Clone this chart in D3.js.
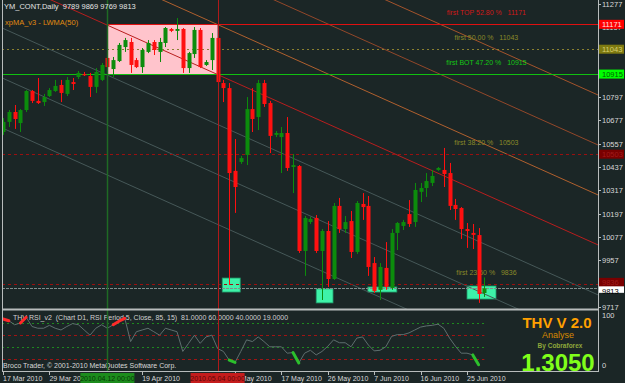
<!DOCTYPE html>
<html>
<head>
<meta charset="utf-8">
<script src="https://d3js.org/d3.v7.min.js"></script>
<style>
  body { margin: 0; background: #1b2626; }
  svg { display: block; }
  text { font-family: "Liberation Sans", Arial, sans-serif; white-space: pre; }
</style>
</head>
<body>
<svg width="625" height="383"></svg>
<script>
// daily candles, one entry per bar (bar 0 = 17 Mar 2010)
const opens  = [10617,10669,10720,10663,10730,10828,10777,10771,10802,10828,10859,10813,10874,10900,10915,10905,10849,10885,10998,10941,
                10982,11054,11080,10987,10951,11029,11080,11029,11075,11147,11137,11147,10946,11018,11142,10962,10987,11101,10869,10843,
                10417,10463,10499,10735,10694,10869,10766,10602,10591,10612,10437,10442,10005,10154,10175,10005,10108,9861,10237,10118,
                10159,10000,10247,10237,9943,9805,9918,9815,10098,10134,10195,10154,10309,10329,10355,10422,10422,10406,10242,10226,
                10118,10098,10087,9789];
const highs  = [10689,10730,10756,10735,10833,10833,10895,10813,10843,10885,10885,10900,10895,10931,10926,10921,10946,10972,11013,11003,
                11075,11101,11101,10998,11049,11090,11090,11101,11157,11152,11203,11152,11029,11157,11152,10987,11126,11116,10885,10869,
                10581,10494,10797,10843,10885,10885,10777,10622,10643,10694,10504,10447,10185,10180,10190,10118,10159,10252,10278,10185,
                10211,10262,10303,10288,9974,9943,10051,10118,10154,10165,10267,10355,10355,10406,10422,10437,10535,10458,10273,10231,
                10149,10144,10123,9869];
const lows   = [10602,10643,10633,10617,10720,10766,10761,10751,10797,10823,10771,10802,10833,10890,10905,10797,10818,10879,10936,10900,
                10977,11029,10921,10946,10921,11023,11013,10977,11054,11131,11090,10921,10921,10998,10946,10957,10936,10807,10771,9830,
                10201,10453,10447,10617,10627,10746,10509,10591,10406,10417,10303,9995,9877,10144,9995,9753,9820,9856,10098,10098,
                9969,9990,10165,9877,9789,9753,9805,9805,10010,10113,10129,10129,10257,10283,10339,10417,10334,10216,10165,10067,
                10021,10015,9738,9769];
const closes = [10669,10720,10684,10730,10828,10777,10766,10797,10833,10854,10818,10885,10864,10921,10910,10849,10926,10962,10951,10987,
                11065,11090,10962,10951,11039,11075,11039,11080,11152,11137,11147,10946,11023,11142,10951,10977,11101,10874,10843,10406,
                10334,10483,10735,10684,10869,10761,10597,10612,10612,10432,10447,10005,10175,10170,10005,10108,9861,10237,10118,10154,
                10000,10252,10231,9923,9799,9923,9820,10098,10149,10154,10144,10319,10329,10365,10391,10432,10401,10237,10221,10118,
                10108,10088,9784,9813];

// THV RSI(5) values per bar
const rsi = [88,85,78,81,91,75,72,72,77,72,69,75,80,78,69,60,72,78,72,78,
             84,89,49,66,69,72,66,60,72,69,66,32,46,60,46,57,60,37,32,17,
             13,32,52,49,57,49,40,40,40,29,30,12,29,34,26,32,41,52,47,47,
             40,55,57,43,33,34,40,58,61,61,64,69,74,76,77,79,72,55,41,29,
             29,26,9];
const rsiHot  = [[0, 1], [3, 4], [19, 21]];     // overbought stretches (bar ranges)
const rsiCold = [[39, 40], [50, 51], [81, 82]]; // oversold stretches
const rsiLevels = [81, 60, 40, 19];

// axes (labels hidden under the flags in the original are left out)
const priceTicks = [9717, 9837, 9957, 10077, 10197, 10317, 10437, 10557, 10677, 10797, 11157, 11277];
const timeTickBars = [0, 8, 24, 40, 48, 56, 64, 72, 80];
const timeTickLabels = ['17 Mar 2010', '29 Mar 2010', '19 Apr 2010', '7 May 2010',
                        '17 May 2010', '26 May 2010', '7 Jun 2010', '16 Jun 2010', '25 Jun 2010'];

// fibo style levels
const levelPrices = [11171, 11043, 10915, 10503, 9836];
const levelNames = ['first TOP 52.80 %', 'first 50.00 %', 'first BOT 47.20 %', 'first 38.20 %', 'first 23.60 %'];
const levelStartBars = [18, 0, 0, 0, 0];
const lastPrice = 9813;

// marked dates (vertical lines) and the range box between them
const markBars = [18, 37];
const markLabels = ['2010.04.12 00:00', '2010.05.04 00:00'];

// descending channel: price at bar 0 and bar 100 of the middle line, step between lines
const channelStart = 11407;
const channelEnd = 10071;
const channelStep = 257;
const channelOffsets = [3, 2, 1, 0, -1, -2, -3];

// support zones: [bar from, bar to] and [upper price, lower price]
const zoneBars = [[37.8, 40.9], [54, 56.9], [62.9, 67.9], [80, 85]];
const zonePrices = [[9866, 9794], [9810, 9738], [9820, 9794], [9825, 9758]];

const svg = d3.select('svg');
const W = 625, H = 383;
const left = 2, right = 598, mainBottom = 309, rsiTop = 311, rsiBottom = 371;

const x = d3.scaleLinear().domain([0, 100]).range([3, 583]);
const y = d3.scaleLinear().domain([9717, 11277]).range([307, 3.7]);
const yr = d3.scaleLinear().domain([0, 100]).range([370, 312]);

const bg = '#1b2626';
const frame = '#b8bcbc';
const axisText = '#d8d8d8';

svg.append('rect').attr('width', W).attr('height', H).attr('fill', bg);

const defs = svg.append('defs');
defs.append('clipPath').attr('id', 'mainClip')
  .append('rect').attr('x', left).attr('y', 0).attr('width', right - left).attr('height', mainBottom);
defs.append('clipPath').attr('id', 'rsiClip')
  .append('rect').attr('x', left).attr('y', rsiTop).attr('width', right - left).attr('height', rsiBottom - rsiTop);

const main = svg.append('g').attr('clip-path', 'url(#mainClip)');
const sub = svg.append('g').attr('clip-path', 'url(#rsiClip)');

// pink range box
main.append('rect')
  .attr('x', x(markBars[0])).attr('y', y(levelPrices[0]))
  .attr('width', x(markBars[1]) - x(markBars[0]))
  .attr('height', y(levelPrices[2]) - y(levelPrices[0]))
  .attr('fill', '#ffc4cc');

// support zones
main.selectAll('.zone').data(zoneBars).enter().append('rect')
  .attr('x', d => x(d[0]))
  .attr('y', (d, k) => y(zonePrices[k][0]))
  .attr('width', d => x(d[1]) - x(d[0]))
  .attr('height', (d, k) => y(zonePrices[k][1]) - y(zonePrices[k][0]))
  .attr('fill', '#3ef2a8').attr('stroke', '#1f9a6a').attr('stroke-width', 0.8);

// channel lines, stretched to the right edge along their slope
const channelColors = ['#a4542c', '#93482a', '#b0602e', '#b81e1e', '#465858', '#465858', '#465858'];
const slope = (y(channelEnd) - y(channelStart)) / (x(100) - x(0));
main.selectAll('.chan').data(channelOffsets).enter().append('line')
  .attr('x1', x(0)).attr('y1', d => y(channelStart + d * channelStep))
  .attr('x2', right).attr('y2', d => y(channelStart + d * channelStep) + slope * (right - x(0)))
  .attr('stroke', (d, k) => channelColors[k]).attr('stroke-width', 1);

// horizontal levels
const levelColors = ['#e01010', '#8a8030', '#10c010', '#9a1010', '#9a1010'];
const levelDash = [null, '2,3', null, '3,3', '3,3'];
main.selectAll('.lvl').data(levelPrices).enter().append('line')
  .attr('x1', (d, k) => levelStartBars[k] ? x(levelStartBars[k]) : left)
  .attr('x2', right)
  .attr('y1', d => Math.round(y(d)) + 0.5).attr('y2', d => Math.round(y(d)) + 0.5)
  .attr('stroke', (d, k) => levelColors[k])
  .attr('stroke-dasharray', (d, k) => levelDash[k]);

main.append('line')
  .attr('x1', left).attr('x2', right)
  .attr('y1', Math.round(y(lastPrice)) + 0.5).attr('y2', Math.round(y(lastPrice)) + 0.5)
  .attr('stroke', '#7f8c8c').attr('stroke-dasharray', '3,1');

// level captions
const captionColors = ['#d01818', '#8a8a28', '#14c814', '#8a8a28', '#8a8a28'];
main.selectAll('.cap').data(levelPrices).enter().append('text')
  .attr('x', x(83) + 2).attr('y', d => y(d) - 9)
  .attr('text-anchor', 'middle').attr('font-size', 7)
  .attr('fill', (d, k) => captionColors[k])
  .text((d, k) => `${levelNames[k]}   ${d}`);

// vertical date markers
const markColors = ['#1f6a24', '#b01a1a'];
svg.selectAll('.mark').data(markBars).enter().append('line')
  .attr('x1', d => Math.round(x(d)) + 0.5).attr('x2', d => Math.round(x(d)) + 0.5)
  .attr('y1', 0).attr('y2', rsiBottom)
  .attr('stroke', (d, k) => markColors[k]).attr('stroke-width', (d, k) => k ? 1 : 1.5);

// candles
const bw = 4;
const bars = d3.range(opens.length);
const up = i => closes[i] >= opens[i];
const candleCol = i => up(i) ? '#0c8c0c' : '#ff1010';
main.selectAll('.wick').data(bars).enter().append('line')
  .attr('x1', i => Math.round(x(i)) + 0.5).attr('x2', i => Math.round(x(i)) + 0.5)
  .attr('y1', i => y(highs[i])).attr('y2', i => y(lows[i]))
  .attr('stroke', candleCol);
main.selectAll('.body').data(bars).enter().append('rect')
  .attr('x', i => Math.round(x(i)) - bw / 2 + 0.5)
  .attr('y', i => y(Math.max(opens[i], closes[i])))
  .attr('width', bw)
  .attr('height', i => Math.max(1.2, Math.abs(y(opens[i]) - y(closes[i]))))
  .attr('fill', candleCol);

// top-left captions
svg.append('text').attr('x', 4).attr('y', 9).attr('font-size', 7.5).attr('fill', '#e4e4e4')
  .text('YM_CONT,Daily  9789 9869 9769 9813');
svg.append('text').attr('x', 5).attr('y', 25).attr('font-size', 7.5).attr('fill', '#e08a10')
  .text('xpMA_v3 - LWMA(50)');

// RSI pane
const rsiLevelColors = ['#1e8a1e', '#a01414', '#1e8a1e', '#a01414'];
const rsiLevelDash = ['2,3', '3,3', '2,3', '3,3'];
sub.selectAll('.rl').data(rsiLevels).enter().append('line')
  .attr('x1', left).attr('x2', x(83))
  .attr('y1', d => Math.round(yr(d)) + 0.5).attr('y2', d => Math.round(yr(d)) + 0.5)
  .attr('stroke', (d, k) => rsiLevelColors[k]).attr('stroke-dasharray', (d, k) => rsiLevelDash[k]);

sub.append('text').attr('x', 13).attr('y', 320).attr('font-size', 7).attr('fill', '#d0d0d0')
  .text('THV RSI_v2  (Chart D1, RSI Period 5, Close, 85, 15)  81.0000 60.0000 40.0000 19.0000');
sub.append('text').attr('x', 3).attr('y', 368).attr('font-size', 7).attr('fill', '#d8d8d8')
  .text('Broco Trader, \u00a9 2001-2010 MetaQuotes Software Corp.');

const rsiLine = d3.line().x((d, i) => x(i)).y(d => yr(d));
sub.append('path').attr('d', rsiLine(rsi)).attr('fill', 'none').attr('stroke', '#5e6e6e').attr('stroke-width', 1);

const segLine = d3.line().x(d => x(d)).y(d => yr(rsi[d]));
const seg = r => segLine(d3.range(r[0], r[1] + 1));
sub.selectAll('.hot').data(rsiHot).enter().append('path')
  .attr('d', seg).attr('fill', 'none').attr('stroke', '#ff2a2a').attr('stroke-width', 3).attr('stroke-linecap', 'round');
sub.selectAll('.cold').data(rsiCold).enter().append('path')
  .attr('d', seg).attr('fill', 'none').attr('stroke', '#2cc02c').attr('stroke-width', 3).attr('stroke-linecap', 'round');

// THV badge
svg.append('text').attr('x', 557).attr('y', 328).attr('text-anchor', 'middle')
  .attr('font-size', 15).attr('font-weight', 'bold').attr('fill', '#ffa000').text('THV V 2.0');
svg.append('text').attr('x', 558).attr('y', 338).attr('text-anchor', 'middle')
  .attr('font-size', 9).attr('fill', '#d88a00').text('Analyse');
svg.append('text').attr('x', 560).attr('y', 348).attr('text-anchor', 'middle')
  .attr('font-size', 6.5).attr('font-weight', 'bold').attr('fill', '#8ea83a').text('By Cobraforex');
svg.append('text').attr('x', 558).attr('y', 371).attr('text-anchor', 'middle')
  .attr('font-size', 24).attr('font-weight', 'bold').attr('fill', '#80ff1a').text('1.3050');

// frame
const fr = svg.append('g').attr('stroke', frame).attr('stroke-width', 1);
fr.append('line').attr('x1', 2.5).attr('x2', 2.5).attr('y1', 0).attr('y2', rsiBottom);
fr.append('line').attr('x1', right + 0.5).attr('x2', right + 0.5).attr('y1', 0).attr('y2', rsiBottom + 1);
fr.append('line').attr('x1', left).attr('x2', right).attr('y1', mainBottom + 0.5).attr('y2', mainBottom + 0.5).attr('stroke-width', 2);
fr.append('line').attr('x1', left).attr('x2', right).attr('y1', rsiBottom + 0.5).attr('y2', rsiBottom + 0.5);

// price axis
const pa = svg.append('g');
pa.selectAll('line').data(priceTicks).enter().append('line')
  .attr('x1', right).attr('x2', right + 3)
  .attr('y1', d => Math.round(y(d)) + 0.5).attr('y2', d => Math.round(y(d)) + 0.5)
  .attr('stroke', frame);
pa.selectAll('text').data(priceTicks).enter().append('text')
  .attr('x', right + 4).attr('y', d => y(d) + 3)
  .attr('font-size', 7.5).attr('fill', axisText).text(d => d);

// price flags
const flagPrices = levelPrices.concat([lastPrice]);
const flagFill = ['#ff0000', '#7e7a10', '#00ff00', '#7a0000', '#7a0000', '#ffffff'];
const flagText = ['#ffe0e0', '#d8d070', '#006000', '#a01c1c', '#a01c1c', '#000000'];
const flagShift = [0, 0, 0, 0, -1.5, 2.5];
const flags = pa.selectAll('.flag').data(flagPrices).enter().append('g');
flags.append('rect')
  .attr('x', right + 1).attr('y', (d, k) => y(d) - 4.5 + flagShift[k])
  .attr('width', 25).attr('height', (d, k) => k === 5 ? 6.5 : 9)
  .attr('fill', (d, k) => flagFill[k]);
flags.append('text')
  .attr('x', right + 4).attr('y', (d, k) => y(d) + 3 + flagShift[k])
  .attr('font-size', 7.5).attr('fill', (d, k) => flagText[k]).text(d => d);

// RSI axis
svg.append('text').attr('x', right + 4).attr('y', 318).attr('font-size', 7.5).attr('fill', axisText).text('100');
svg.append('text').attr('x', right + 4).attr('y', 368).attr('font-size', 7.5).attr('fill', axisText).text('0');

// time axis
const ta = svg.append('g');
ta.selectAll('line').data(timeTickBars).enter().append('line')
  .attr('x1', d => Math.round(x(d)) + 0.5).attr('x2', d => Math.round(x(d)) + 0.5)
  .attr('y1', rsiBottom).attr('y2', rsiBottom + 4).attr('stroke', frame);
ta.selectAll('text').data(timeTickBars).enter().append('text')
  .attr('x', d => x(d)).attr('y', 381)
  .attr('font-size', 7).attr('fill', axisText).text((d, k) => timeTickLabels[k]);

const markFill = ['#1c8c1c', '#c41c1c'];
const markText = ['#063806', '#5c0606'];
const mk = ta.selectAll('.mk').data(markBars).enter().append('g');
mk.append('rect').attr('x', d => x(d) - 27).attr('y', 373).attr('width', 54).attr('height', 10)
  .attr('fill', (d, k) => markFill[k]);
mk.append('text').attr('x', d => x(d)).attr('y', 381).attr('text-anchor', 'middle')
  .attr('font-size', 7).attr('fill', (d, k) => markText[k]).text((d, k) => markLabels[k]);
</script>
</body>
</html>
